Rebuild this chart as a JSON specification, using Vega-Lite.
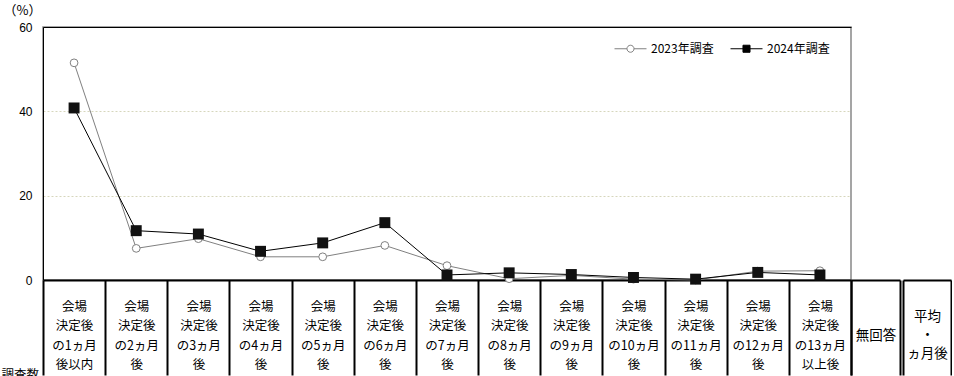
{
  "$schema": "https://vega.github.io/schema/vega-lite/v6.json",
  "background": "white",
  "padding": {"left": 0, "top": 3, "right": 0, "bottom": 0},
  "spacing": 0,
  "bounds": "flush",
  "config": {"font": "Noto Sans CJK JP"},
  "hconcat": [
    {
      "width": 808,
      "height": 253,
      "view": {"stroke": "#888888", "strokeWidth": 1.5},
      "data": {"values": [
        {"cat": "会場|決定後|の1ヵ月|後以内", "series": "2023年調査", "value": 51.5},
        {"cat": "会場|決定後|の2ヵ月|後", "series": "2023年調査", "value": 7.5},
        {"cat": "会場|決定後|の3ヵ月|後", "series": "2023年調査", "value": 9.8},
        {"cat": "会場|決定後|の4ヵ月|後", "series": "2023年調査", "value": 5.5},
        {"cat": "会場|決定後|の5ヵ月|後", "series": "2023年調査", "value": 5.5},
        {"cat": "会場|決定後|の6ヵ月|後", "series": "2023年調査", "value": 8.2},
        {"cat": "会場|決定後|の7ヵ月|後", "series": "2023年調査", "value": 3.4},
        {"cat": "会場|決定後|の8ヵ月|後", "series": "2023年調査", "value": 0.3},
        {"cat": "会場|決定後|の9ヵ月|後", "series": "2023年調査", "value": 1.1},
        {"cat": "会場|決定後|の10ヵ月|後", "series": "2023年調査", "value": 0.2},
        {"cat": "会場|決定後|の11ヵ月|後", "series": "2023年調査", "value": 0.0},
        {"cat": "会場|決定後|の12ヵ月|後", "series": "2023年調査", "value": 2.1},
        {"cat": "会場|決定後|の13ヵ月|以上後", "series": "2023年調査", "value": 2.2},
        {"cat": "会場|決定後|の1ヵ月|後以内", "series": "2024年調査", "value": 40.8},
        {"cat": "会場|決定後|の2ヵ月|後", "series": "2024年調査", "value": 11.7},
        {"cat": "会場|決定後|の3ヵ月|後", "series": "2024年調査", "value": 10.9},
        {"cat": "会場|決定後|の4ヵ月|後", "series": "2024年調査", "value": 6.8},
        {"cat": "会場|決定後|の5ヵ月|後", "series": "2024年調査", "value": 8.8},
        {"cat": "会場|決定後|の6ヵ月|後", "series": "2024年調査", "value": 13.6},
        {"cat": "会場|決定後|の7ヵ月|後", "series": "2024年調査", "value": 1.2},
        {"cat": "会場|決定後|の8ヵ月|後", "series": "2024年調査", "value": 1.7},
        {"cat": "会場|決定後|の9ヵ月|後", "series": "2024年調査", "value": 1.3},
        {"cat": "会場|決定後|の10ヵ月|後", "series": "2024年調査", "value": 0.6},
        {"cat": "会場|決定後|の11ヵ月|後", "series": "2024年調査", "value": 0.2},
        {"cat": "会場|決定後|の12ヵ月|後", "series": "2024年調査", "value": 1.8},
        {"cat": "会場|決定後|の13ヵ月|以上後", "series": "2024年調査", "value": 1.2}
      ]},
      "encoding": {
        "x": {
          "field": "cat", "type": "nominal", "sort": null, "bandPosition": 0.5,
          "scale": {"type": "band", "paddingInner": 0, "paddingOuter": 0},
          "axis": {
            "title": "調査数", "titleX": -42, "titleY": 88, "titleAlign": "left", "titleBaseline": "top", "titleAngle": 0,
            "titleFont": "Noto Sans CJK JP", "titleFontSize": 12.5, "titleFontWeight": "normal", "titleColor": "#000000",
            "labelExpr": "split(datum.label, '|')", "labelAngle": 0, "labelAlign": "center", "labelBaseline": "middle",
            "labelPadding": -69, "labelLineHeight": 19.5, "labelFont": "Noto Sans CJK JP", "labelFontSize": 12.5,
            "labelColor": "#000000", "labelOverlap": false, "labelFlush": false, "labelLimit": 0,
            "tickBand": "extent", "tickSize": 95, "tickWidth": 2, "tickColor": "#000000",
            "domainColor": "#000000", "domainWidth": 2, "grid": false
          }
        },
        "y": {
          "field": "value", "type": "quantitative",
          "scale": {"domain": [0, 60], "nice": false},
          "axis": {
            "title": "（%）", "titleAngle": 0, "titleX": -40, "titleY": -17, "titleAlign": "left", "titleBaseline": "middle",
            "titleFont": "Noto Sans CJK JP", "titleFontSize": 13, "titleFontWeight": "normal", "titleColor": "#000000",
            "values": [0, 20, 40, 60], "ticks": false, "labelPadding": 11,
            "labelFont": "Liberation Sans", "labelFontSize": 12, "labelColor": "#000000",
            "domainColor": "#000000", "domainWidth": 1,
            "grid": true,
            "gridColor": {"condition": {"test": "datum.value === 60", "value": "#000000"}, "value": "#d6d6bc"},
            "gridDash": {"condition": {"test": "datum.value === 60", "value": []}, "value": [2, 2]},
            "gridWidth": 1
          }
        }
      },
      "layer": [
        {
          "transform": [{"filter": "datum.series === '2023年調査'"}],
          "mark": {"type": "line", "color": "#808080", "strokeWidth": 1}
        },
        {
          "transform": [{"filter": "datum.series === '2023年調査'"}],
          "mark": {"type": "point", "shape": "circle", "filled": true, "fill": "#ffffff", "stroke": "#808080", "strokeWidth": 1, "size": 60, "opacity": 1}
        },
        {
          "transform": [{"filter": "datum.series === '2024年調査'"}],
          "mark": {"type": "line", "color": "#000000", "strokeWidth": 1}
        },
        {
          "transform": [{"filter": "datum.series === '2024年調査'"}],
          "mark": {"type": "point", "shape": "square", "filled": true, "fill": "#111111", "strokeWidth": 0, "size": 120, "opacity": 1}
        },
        {
          "transform": [{"filter": "false"}],
          "mark": {"type": "point", "filled": true},
          "encoding": {
            "shape": {
              "field": "series", "type": "nominal",
              "scale": {"domain": ["2023年調査", "2024年調査"], "range": ["M-1,0L-0.22,0M0.22,0L1,0M-0.22,0A0.22,0.22,0,1,1,0.22,0A0.22,0.22,0,1,1,-0.22,0Z", "M-1,0L1,0M-0.22,-0.22L0.22,-0.22L0.22,0.22L-0.22,0.22Z"]},
              "legend": {
                "title": null, "orient": "none", "legendX": 571, "legendY": 5, "direction": "horizontal", "columns": 2,
                "padding": 0, "columnPadding": 14, "symbolSize": 1024, "symbolStrokeWidth": 1, "symbolOpacity": 1,
                "labelOffset": 4, "labelFont": "Noto Sans CJK JP", "labelFontSize": 12, "labelColor": "#000000", "labelLimit": 0
              }
            },
            "fill": {"field": "series", "type": "nominal", "scale": {"domain": ["2023年調査", "2024年調査"], "range": ["#ffffff", "#000000"]}},
            "stroke": {"field": "series", "type": "nominal", "scale": {"domain": ["2023年調査", "2024年調査"], "range": ["#808080", "#000000"]}}
          }
        }
      ]
    },
    {
      "spacing": 3,
      "bounds": "flush",
      "hconcat": [
        {
          "width": 49,
          "height": 253,
          "view": {"stroke": null},
          "data": {"values": [{"cat": "無回答"}]},
          "mark": {"type": "point", "opacity": 0},
          "encoding": {
            "x": {
              "field": "cat", "type": "nominal",
              "scale": {"type": "band", "paddingInner": 0, "paddingOuter": 0},
              "axis": {
                "title": null, "labelExpr": "split(datum.label, '|')", "labelAngle": 0, "labelAlign": "center", "labelBaseline": "middle",
                "labelPadding": -40, "labelLineHeight": 18.5, "labelFont": "Noto Sans CJK JP", "labelFontSize": 13.5,
                "labelColor": "#000000", "labelOverlap": false, "labelFlush": false, "labelLimit": 0,
                "tickBand": "extent", "tickSize": 95, "tickWidth": 2, "tickColor": "#000000",
                "domainColor": "#000000", "domainWidth": 2, "grid": false
              }
            }
          }
        },
        {
          "width": 48,
          "height": 253,
          "view": {"stroke": null},
          "data": {"values": [{"cat": "平均|・|ヵ月後"}]},
          "mark": {"type": "point", "opacity": 0},
          "encoding": {
            "x": {
              "field": "cat", "type": "nominal",
              "scale": {"type": "band", "paddingInner": 0, "paddingOuter": 0},
              "axis": {
                "title": null, "labelExpr": "split(datum.label, '|')", "labelAngle": 0, "labelAlign": "center", "labelBaseline": "middle",
                "labelPadding": -59, "labelLineHeight": 18.5, "labelFont": "Noto Sans CJK JP", "labelFontSize": 13.5,
                "labelColor": "#000000", "labelOverlap": false, "labelFlush": false, "labelLimit": 0,
                "tickBand": "extent", "tickSize": 95, "tickWidth": 2, "tickColor": "#000000",
                "domainColor": "#000000", "domainWidth": 2, "grid": false
              }
            }
          }
        }
      ]
    }
  ]
}
